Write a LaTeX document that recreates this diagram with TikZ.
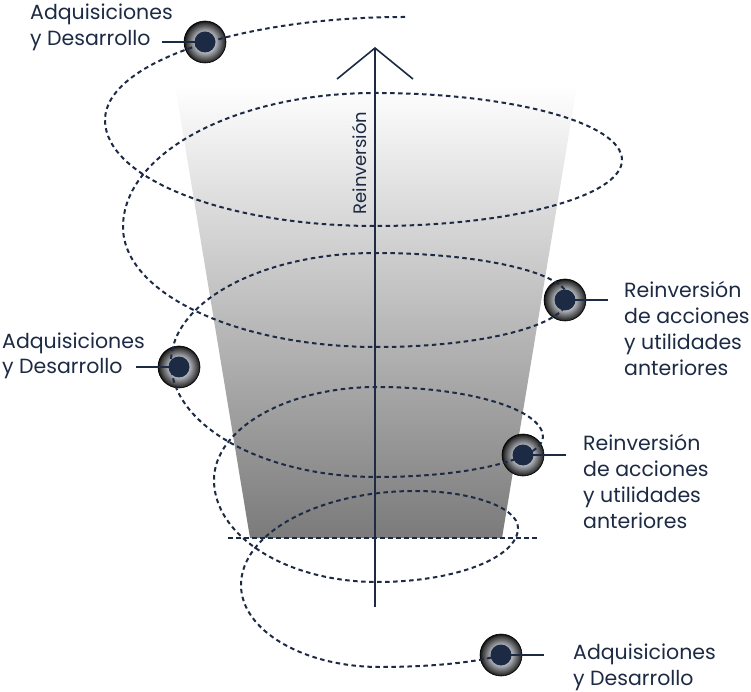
\documentclass[tikz,border=0pt]{standalone}
\usepackage{fontspec}
\setmainfont{Poppins}
\usepackage{tikz}
\usetikzlibrary{positioning, calc, arrows.meta}
\definecolor{navy}{HTML}{1C2A44}
\definecolor{ringlight}{HTML}{B4B8BF}
\pgfdeclareradialshading{beadring}{\pgfpoint{0bp}{0bp}}{color(0bp)=(ringlight); color(12bp)=(ringlight); color(23bp)=(black!80); color(25bp)=(black!95); color(50bp)=(black!95)}
\tikzstyle{bead} = [circle, minimum size=42pt, inner sep=0pt, draw=black, line width=0.6pt, shading=beadring, path picture={\fill[navy] (path picture bounding box.center) circle (10.5pt);}]
\tikzstyle{note} = [anchor=base west, align=left, inner sep=0pt, text=navy, font=\fontsize{20.5}{26}\selectfont]
\tikzstyle{spiral} = [navy, line width=2pt, dash pattern=on 4.5pt off 3.5pt]
\tikzstyle{leader} = [navy, line width=1.2pt]
\tikzstyle{growth} = [navy, line width=1.6pt, -{Straight Barb[length=31pt, width=76pt, line width=1.6pt]}]

\begin{document}
\begin{tikzpicture}[x=1pt, y=1pt]
\useasboundingbox (0,0) rectangle (751,691);

% cone
\shade[top color=white, bottom color=black!52] (175,606) -- (577,606) -- (502,153) -- (250,153) -- cycle;
\coordinate (baseL) at (228,153);
\coordinate (baseR) at (540,153);
\draw[spiral] (baseL) -- (baseR);

\coordinate (axisbot) at (375,84);
\coordinate (axistop) at (375,644);
\draw[growth] (axisbot) -- (axistop);
\node (reinv) [rotate=90, text=navy, font=\fontsize{18}{21}\selectfont] at (359,528) {Reinversión};

\node (adqA) [bead] at (205,649) {};
\node (reiB) [bead] at (565,391) {};
\node (adqC) [bead] at (179,324) {};
\node (reiD) [bead] at (523,236) {};
\node (adqE) [bead] at (501,36) {};

% spiral, from the top down
\coordinate (start) at (405,674);
\draw[spiral] (start)
  arc[start angle=90, end angle=180, x radius=300, y radius=103]
  arc[start angle=180, end angle=270, x radius=270, y radius=106]
  arc[start angle=270, end angle=360, x radius=247, y radius=66]
  arc[start angle=0, end angle=90, x radius=247, y radius=67]
  arc[start angle=90, end angle=180, x radius=252, y radius=134]
  arc[start angle=180, end angle=270, x radius=254, y radius=120]
  arc[start angle=270, end angle=360, x radius=191, y radius=49]
  arc[start angle=0, end angle=90, x radius=193, y radius=45]
  arc[start angle=90, end angle=180, x radius=204, y radius=109]
  arc[start angle=180, end angle=270, x radius=206, y radius=115]
  arc[start angle=270, end angle=360, x radius=166, y radius=40]
  arc[start angle=0, end angle=90, x radius=166, y radius=50]
  arc[start angle=90, end angle=180, x radius=163, y radius=93]
  arc[start angle=180, end angle=270, x radius=163, y radius=102]
  arc[start angle=270, end angle=360, x radius=141, y radius=54]
  arc[start angle=0, end angle=90, x radius=103, y radius=37]
  arc[start angle=90, end angle=180, x radius=174, y radius=94]
  arc[start angle=180, end angle=270, x radius=139, y radius=82]
  arc[start angle=270, end angle=330, x radius=140, y radius=24];

\coordinate (endA) at ($(adqA.center)+(-43,0)$);
\coordinate (endB) at ($(reiB.center)+(43,0)$);
\coordinate (endC) at ($(adqC.center)+(-43,0)$);
\coordinate (endD) at ($(reiD.center)+(43,0)$);
\coordinate (endE) at ($(adqE.center)+(43,0)$);
\draw[leader] (endA) -- (adqA.center);
\draw[leader] (reiB.center) -- (endB);
\draw[leader] (endC) -- (adqC.center);
\draw[leader] (reiD.center) -- (endD);
\draw[leader] (adqE.center) -- (endE);

\node (lblA) [note] at (30,645) {Adquisiciones\\y Desarrollo};
\node (lblB) [note] at (624,316) {Reinversión\\de acciones\\y utilidades\\anteriores};
\node (lblC) [note] at (2,317) {Adquisiciones\\y Desarrollo};
\node (lblD) [note] at (583,163) {Reinversión\\de acciones\\y utilidades\\anteriores};
\node (lblE) [note] at (573,6) {Adquisiciones\\y Desarrollo};

\end{tikzpicture}
\end{document}
